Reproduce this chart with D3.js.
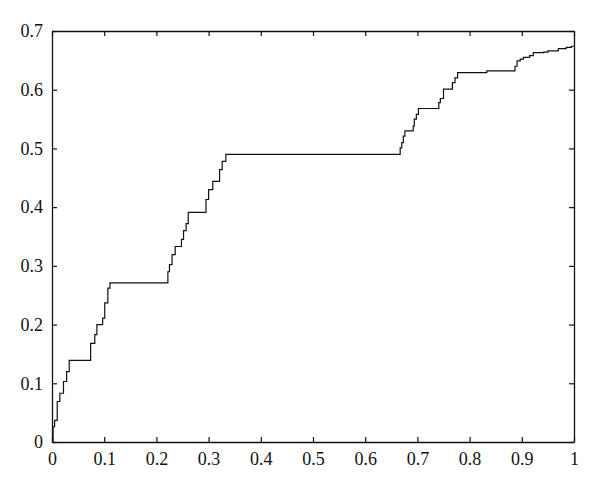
<!DOCTYPE html>
<html>
<head>
<meta charset="utf-8">
<script src="https://cdn.jsdelivr.net/npm/d3@7"></script>
<style>
  html, body { margin: 0; padding: 0; background: #fff; }
  svg { display: block; }
  text { font-family: "Liberation Serif", "DejaVu Serif", serif; font-size: 18px; fill: #111; }
</style>
</head>
<body>
<svg id="chart" width="600" height="492"></svg>
<script>
// Step breakpoints: from each x onward, the curve has value y
const xValues = [0.000, 0.002, 0.005, 0.010, 0.015, 0.022, 0.028, 0.033, 0.074, 0.082,
  0.086, 0.097, 0.101, 0.107, 0.111, 0.222, 0.225, 0.230, 0.236, 0.248,
  0.252, 0.257, 0.261, 0.295, 0.300, 0.308, 0.321, 0.326, 0.333, 0.667,
  0.670, 0.673, 0.676, 0.692, 0.694, 0.698, 0.702, 0.741, 0.744, 0.750,
  0.767, 0.772, 0.777, 0.833, 0.887, 0.891, 0.897, 0.903, 0.915, 0.922,
  0.942, 0.950, 0.970, 0.985, 0.995, 1.000];
const yValues = [0.000, 0.026, 0.037, 0.069, 0.083, 0.103, 0.120, 0.139, 0.168, 0.183,
  0.200, 0.211, 0.237, 0.262, 0.271, 0.290, 0.302, 0.319, 0.333, 0.345,
  0.360, 0.372, 0.391, 0.413, 0.430, 0.444, 0.464, 0.478, 0.490, 0.501,
  0.510, 0.521, 0.530, 0.538, 0.550, 0.558, 0.568, 0.578, 0.585, 0.601,
  0.612, 0.620, 0.629, 0.632, 0.640, 0.649, 0.652, 0.655, 0.658, 0.663,
  0.664, 0.666, 0.670, 0.672, 0.674, 0.674];
const xTicks = [0, 0.1, 0.2, 0.3, 0.4, 0.5, 0.6, 0.7, 0.8, 0.9, 1];
const yTicks = [0, 0.1, 0.2, 0.3, 0.4, 0.5, 0.6, 0.7];
const xTickLabels = ["0", "0.1", "0.2", "0.3", "0.4", "0.5", "0.6", "0.7", "0.8", "0.9", "1"];
const yTickLabels = ["0", "0.1", "0.2", "0.3", "0.4", "0.5", "0.6", "0.7"];

const svg = d3.select("#chart");
const L = 52, R = 574, T = 31, B = 442;
const x = d3.scaleLinear().domain([0, 1]).range([L, R]);
const y = d3.scaleLinear().domain([0, 0.7]).range([B, T]);
const tickLen = 5;

const data = xValues.map((v, i) => [v, yValues[i]]);
const lineGen = d3.line().x(d => x(d[0])).y(d => y(d[1])).curve(d3.curveStepAfter);
svg.append("path")
  .datum(data)
  .attr("fill", "none")
  .attr("stroke", "#111")
  .attr("stroke-width", 1.2)
  .attr("d", lineGen);

const gBottom = svg.append("g").attr("transform", `translate(0,${B})`)
  .call(d3.axisBottom(x).tickValues(xTicks).tickFormat((d, i) => xTickLabels[i]).tickSizeInner(-tickLen).tickSizeOuter(0).tickPadding(10));
const gTop = svg.append("g").attr("transform", `translate(0,${T})`)
  .call(d3.axisTop(x).tickValues(xTicks).tickFormat("").tickSizeInner(-tickLen).tickSizeOuter(0));
const gLeft = svg.append("g").attr("transform", `translate(${L},0)`)
  .call(d3.axisLeft(y).tickValues(yTicks).tickFormat((d, i) => yTickLabels[i]).tickSizeInner(-tickLen).tickSizeOuter(0).tickPadding(9));
const gRight = svg.append("g").attr("transform", `translate(${R},0)`)
  .call(d3.axisRight(y).tickValues(yTicks).tickFormat("").tickSizeInner(-tickLen).tickSizeOuter(0));

[gBottom, gTop, gLeft, gRight].forEach(g => {
  g.select(".domain").attr("stroke", "#111").attr("stroke-width", 1.3);
  g.selectAll(".tick line").attr("stroke", "#111").attr("stroke-width", 1.2);
  g.selectAll("text").attr("font-family", "Liberation Serif, DejaVu Serif, serif").attr("font-size", 18).attr("fill", "#111");
});
</script>
</body>
</html>
